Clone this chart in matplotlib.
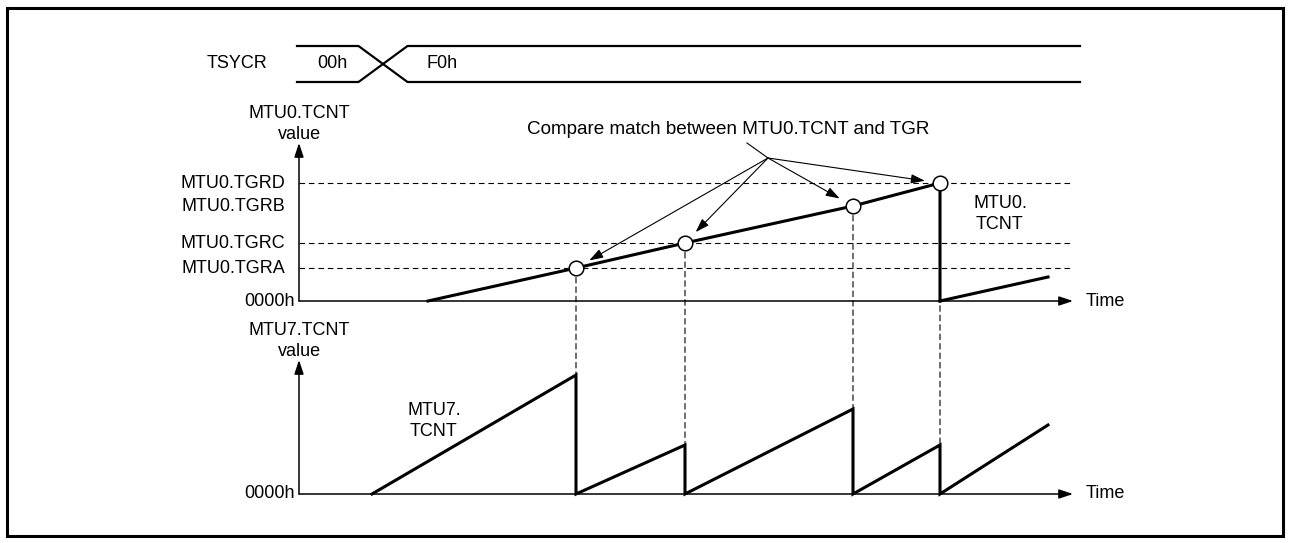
import matplotlib.pyplot as plt
from matplotlib.patches import Rectangle, ConnectionPatch

plt.rcParams['font.family'] = ['Liberation Sans', 'DejaVu Sans']
plt.rcParams['font.size'] = 13

# time in arbitrary units, counter values in arbitrary units
tsycr_values = ['00h', 'F0h']
tsycr_start, tsycr_change, tsycr_end = -0.2, 8.4, 78.1

mtu0_start = 12.9
match_times = [27.7, 38.6, 55.4, 64.1]
tgr_names = ['MTU0.TGRA', 'MTU0.TGRC', 'MTU0.TGRB', 'MTU0.TGRD']
tgr_values = [33, 58, 95, 118]
mtu0_after_t = [64.1, 74.9]
mtu0_after_v = [0, 24]

mtu7_start = 7.3
mtu7_peaks = [119, 49, 85, 49]
mtu7_end_t, mtu7_end_v = 74.9, 69

t_max = 77.4
W, H = 1290, 543

fig = plt.figure(figsize=(W / 100, H / 100), dpi=100)


def box(x0, y0, x1, y1):
    return fig.add_axes([x0 / W, 1 - y1 / H, (x1 - x0) / W, (y1 - y0) / H])


fig.patches.append(Rectangle((7 / W, 7 / H), 1276 / W, 528 / H, transform=fig.transFigure,
                             fill=False, lw=2.2, ec='black'))

ax_t = box(299, 46, 1073, 82)
ax0 = box(299, 143, 1073, 301)
ax1 = box(299, 360, 1073, 494)

for ax in (ax_t, ax0, ax1):
    ax.set_xlim(0, t_max)
    ax.axis('off')
ax_t.set_ylim(0, 1)
ax0.set_ylim(0, 158)
ax1.set_ylim(0, 134)

# TSYCR bus waveform
hw = 2.45
ax_t.plot([tsycr_start, tsycr_change - hw, tsycr_change + hw, tsycr_end], [1, 1, 0, 0],
          color='black', lw=1.6, clip_on=False)
ax_t.plot([tsycr_start, tsycr_change - hw, tsycr_change + hw, tsycr_end], [0, 0, 1, 1],
          color='black', lw=1.6, clip_on=False)
ax_t.text(-6.2, 0.5, 'TSYCR', ha='center', va='center')
ax_t.text(3.3, 0.5, tsycr_values[0], ha='center', va='center')
ax_t.text(14.3, 0.5, tsycr_values[1], ha='center', va='center')

arrow_kw = dict(arrowstyle='-|>,head_length=0.6,head_width=0.2', color='black', lw=1.1,
                shrinkA=0, shrinkB=0, mutation_scale=14)

for ax, top_label in ((ax0, 'MTU0.TCNT\nvalue'), (ax1, 'MTU7.TCNT\nvalue')):
    ax.annotate('', xy=(0, 1), xytext=(0, 0), xycoords='axes fraction', arrowprops=arrow_kw)
    ax.annotate('', xy=(1, 0), xytext=(0, 0), xycoords='axes fraction', arrowprops=arrow_kw)
    ax.annotate(top_label, xy=(0, 1), xycoords='axes fraction', xytext=(0, 0),
                textcoords='offset points', ha='center', va='bottom', linespacing=1.3)
    ax.annotate('Time', xy=(1, 0), xycoords='axes fraction', xytext=(9, 0),
                textcoords='offset points', ha='left', va='center')
    ax.annotate('0000h', xy=(0, 0), xycoords='axes fraction', xytext=(-3, 0),
                textcoords='offset points', ha='right', va='center')

# TGR levels
for name, v in zip(tgr_names, tgr_values):
    if name != 'MTU0.TGRB':
        ax0.plot([0, 77.1], [v, v], color='black', lw=0.8, dashes=(5, 3.5), clip_on=False)
    ax0.annotate(name, xy=(0, v), xycoords=ax0.get_yaxis_transform(), xytext=(-10, 0),
                 textcoords='offset points', ha='right', va='center')

# dashed links from compare match to MTU7 peaks
for t, v, p in zip(match_times, tgr_values, mtu7_peaks):
    con = ConnectionPatch(xyA=(t, v), coordsA=ax0.transData, xyB=(t, p), coordsB=ax1.transData,
                          color='black', lw=0.8, linestyle=(0, (5, 3.5)), zorder=-1)
    fig.add_artist(con)

# MTU0.TCNT
ax0.plot([mtu0_start] + match_times + [match_times[-1]], [0] + tgr_values + [0],
         color='black', lw=2.2, clip_on=False, solid_joinstyle='miter')
ax0.plot(mtu0_after_t, mtu0_after_v, color='black', lw=2.2, clip_on=False)
ax0.plot(match_times, tgr_values, 'o', ms=10.5, mfc='white', mec='black', mew=1.1,
         clip_on=False, zorder=5)
ax0.text(70.1, 87, 'MTU0.\nTCNT', ha='center', va='center', linespacing=1.3)

# compare match annotation
hub = (46.9, 143)
ax0.text(42.9, 172, 'Compare match between MTU0.TCNT and TGR', ha='center', va='center',
         fontsize=13.6)
ax0.plot([44.8, hub[0]], [158, hub[1]], color='black', lw=0.8, clip_on=False)
for t, v in zip(match_times, tgr_values):
    ax0.annotate('', xy=(t, v), xytext=hub,
                 arrowprops=dict(arrowstyle='-|>,head_length=0.6,head_width=0.2', color='black',
                                 lw=0.8, shrinkA=0, shrinkB=11, mutation_scale=14))

# MTU7.TCNT sawtooth
saw_t = [mtu7_start]
saw_v = [0]
for t, p in zip(match_times, mtu7_peaks):
    saw_t += [t, t]
    saw_v += [p, 0]
saw_t.append(mtu7_end_t)
saw_v.append(mtu7_end_v)
ax1.plot(saw_t, saw_v, color='black', lw=2.2, clip_on=False, solid_joinstyle='miter')
ax1.text(13.5, 73, 'MTU7.\nTCNT', ha='center', va='center', linespacing=1.3)

fig.savefig('out.png', dpi=100)
